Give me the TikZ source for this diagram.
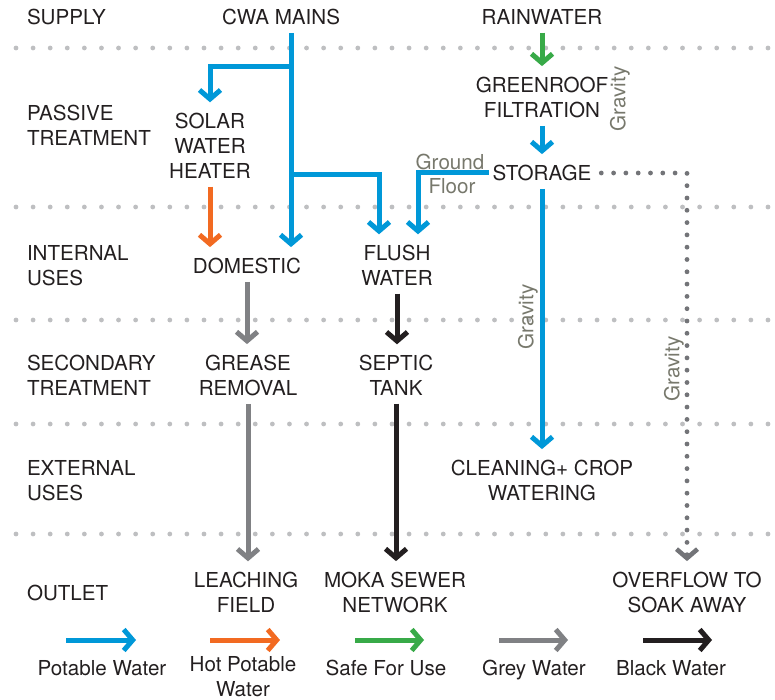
\documentclass[tikz,border=0pt]{standalone}
\usepackage{fontspec}
\setmainfont{TeX Gyre Heros}
\usetikzlibrary{arrows.meta,calc}
\definecolor{cpot}{RGB}{0,152,216}
\definecolor{chot}{RGB}{242,106,33}
\definecolor{csafe}{RGB}{56,170,72}
\definecolor{cgrey}{RGB}{128,129,132}
\definecolor{cblack}{RGB}{35,31,32}
\definecolor{cdot}{RGB}{190,191,193}
\definecolor{clabel}{RGB}{119,120,108}
\definecolor{cover}{RGB}{115,116,120}
\begin{document}
\begin{tikzpicture}[x=1pt,y=-1pt,
  txt/.style={font=\fontsize{20.6}{25}\selectfont, text=cblack, align=center, inner xsep=4pt, inner ysep=8pt, outer sep=0pt},
  rowlbl/.style={txt, align=left, anchor=west, inner xsep=0pt},
  note/.style={font=\fontsize{20.6}{25}\selectfont, text=clabel, inner sep=0pt},
  flow/.style={line width=5pt, -{Straight Barb[length=9pt,width=21pt,line width=5pt]}, shorten >=3pt},
  pot/.style={flow, draw=cpot},
  hot/.style={flow, draw=chot},
  safe/.style={flow, draw=csafe},
  gry/.style={flow, draw=cgrey},
  blk/.style={flow, draw=cblack},
  leg/.style={shorten >=0pt},
  ovf/.style={draw=cover, line width=4.8pt, line cap=round, dash pattern=on 0pt off 12.3pt,
     -{Straight Barb[length=9pt,width=21pt,line width=4.6pt]}, shorten >=3pt}
]
\useasboundingbox (0,0) rectangle (775,700);
% background dotted separators
\foreach \yy in {48,207,320,424,534}{
  \foreach \k in {0,...,44}{
    \fill[cdot] (16+17.09*\k,\yy) circle (2.4pt);
  }
}
% row labels
\node[rowlbl] (rsupply) at (27,17) {SUPPLY};
\node[rowlbl] (rpassive) at (27,125.5) {PASSIVE\\TREATMENT};
\node[rowlbl] (rinternal) at (27,265.5) {INTERNAL\\USES};
\node[rowlbl] (rsecondary) at (27,375.5) {SECONDARY\\TREATMENT};
\node[rowlbl] (rexternal) at (27,480.5) {EXTERNAL\\USES};
\node[rowlbl] (routlet) at (27,593) {OUTLET};
% nodes
\node[txt] (cwa) at (281,17) {CWA MAINS};
\node[txt] (rain) at (542,17) {RAINWATER};
\node[txt] (solar) at (210,146) {SOLAR\\WATER\\HEATER};
\node[txt] (green) at (542,97.5) {GREENROOF\\FILTRATION};
\node[txt] (storage) at (542,173) {STORAGE};
\node[txt] (domestic) at (247,266) {DOMESTIC};
\node[txt] (flush) at (397,265.5) {FLUSH\\WATER};
\node[txt] (grease) at (248,375.5) {GREASE\\REMOVAL};
\node[txt] (septic) at (396,375.5) {SEPTIC\\TANK};
\node[txt] (clean) at (542,480.5) {CLEANING+ CROP\\WATERING};
\node[txt] (leach) at (246,592.5) {LEACHING\\FIELD};
\node[txt] (moka) at (395,592.5) {MOKA SEWER\\NETWORK};
\node[txt] (over) at (687,592.5) {OVERFLOW TO\\SOAK AWAY};
% notes
\node[note] (ground) at (450,162) {Ground};
\node[note] (floor) at (452,186) {Floor};
\node[note, rotate=90] (grav1) at (620,99) {Gravity};
\node[note, rotate=90] (grav2) at (528,317) {Gravity};
\node[note, rotate=90] (grav3) at (674,369) {Gravity};
% connectors
\coordinate (j1) at (291,67);
\coordinate (j2) at (291,175);
\draw[pot] (cwa.south -| j1) -- (j1 |- domestic.north);
\draw[pot] (j1) -| (solar.north);
\draw[pot] (j2) -| ($(flush.north)+(-18,0)$);
\draw[pot] (storage.west) -| ($(flush.north)+(21,0)$);
\draw[safe] (rain.south) -- (green.north);
\draw[pot] (green.south) -- (storage.north);
\draw[pot] (storage.south) -- (clean.north);
\draw[hot] (solar.south) -- (solar.south |- domestic.north);
\draw[gry] (domestic.south) -- (domestic.south |- grease.north);
\draw[gry] (grease.south) -- (grease.south |- leach.north);
\draw[blk] (flush.south) -- (flush.south |- septic.north);
\draw[blk] (septic.south) -- (septic.south |- moka.north);
\draw[ovf] ([xshift=6pt]storage.east) -| (over.north);
% legend
\node[txt, anchor=base, inner sep=0pt] (lpot) at (102,675) {Potable Water};
\node[txt, inner sep=0pt] (lhot) at (243,677) {Hot Potable\\Water};
\node[txt, anchor=base, inner sep=0pt] (lsafe) at (386,675) {Safe For Use};
\node[txt, anchor=base, inner sep=0pt] (lgrey) at (534,675) {Grey Water};
\node[txt, anchor=base, inner sep=0pt] (lblack) at (671,675) {Black Water};
\coordinate (a1) at (66,640); \coordinate (b1) at (136,640);
\coordinate (a2) at (210,640); \coordinate (b2) at (280,640);
\coordinate (a3) at (355,640); \coordinate (b3) at (424,640);
\coordinate (a4) at (499,640); \coordinate (b4) at (568,640);
\coordinate (a5) at (643,640); \coordinate (b5) at (712,640);
\draw[pot,leg] (a1) -- (b1);
\draw[hot,leg] (a2) -- (b2);
\draw[safe,leg] (a3) -- (b3);
\draw[gry,leg] (a4) -- (b4);
\draw[blk,leg] (a5) -- (b5);
\end{tikzpicture}
\end{document}
